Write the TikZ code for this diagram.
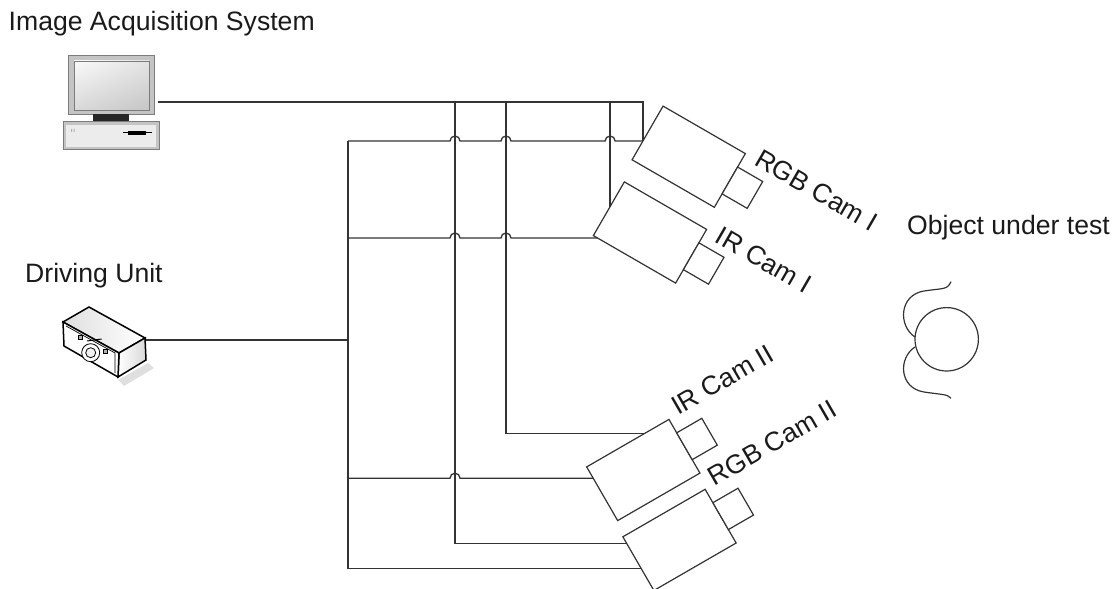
\documentclass[tikz,border=0pt]{standalone}
\usepackage{fontspec}
\setmainfont{Liberation Sans}
\usetikzlibrary{calc}
\usetikzlibrary{shadings}

\definecolor{wirecol}{HTML}{333333}
\definecolor{txtcol}{HTML}{1A1A1A}
\definecolor{pcframe}{HTML}{C4C4C4}
\definecolor{pcedge}{HTML}{7C7C7C}

\begin{document}
\begin{tikzpicture}[x=1bp, y=-1bp,
    wire/.style={draw=wirecol, line width=1.3bp},
    cambody/.style={draw=wirecol, line width=1.2bp, fill=white, minimum width=95bp, minimum height=62bp, inner sep=0pt, outer sep=0pt},
    camlens/.style={draw=wirecol, line width=1.2bp, fill=white, minimum width=29bp, minimum height=31bp, inner sep=0pt, outer sep=0pt},
    lbl/.style={font=\fontsize{26.6bp}{31bp}\selectfont, text=txtcol, inner sep=0pt}]
    \useasboundingbox (0,0) rectangle (1118,589);

    % computer
    \draw[draw=pcedge, fill=pcframe, line width=1bp] (68,56) rectangle (154,115);
    \shade[upper left=gray!4, upper right=gray!22, lower left=gray!30, lower right=gray!45] (74,61) rectangle (149,110);
    \draw[draw=pcedge, line width=0.8bp] (74,61) rectangle (149,110);
    \fill[black!85] (93,114) rectangle (129,121);
    \draw[draw=pcedge, fill=pcframe, line width=1bp] (63,122) rectangle (159,150);
    \fill[gray!15] (66,125) rectangle (156,147);
    \fill[gray!60] (71,129) rectangle (72,132) (73.5,129) rectangle (74.5,132);
    \draw[black, line width=1bp] (123,133) -- (152,133);
    \fill[black] (128,131.3) rectangle (146,134.7);
    \coordinate (pcOut) at (158,102);

    % driving unit
    \fill[gray!25] (118,380) -- (148,363) -- (154,368) -- (124,386) -- cycle;
    \shade[left color=gray!25, right color=white, draw=black, line width=1.5bp] (63,322) -- (89,307) -- (145,338) -- (119,353) -- cycle;
    \shade[left color=white, right color=gray!30, draw=black, line width=1.5bp] (119,353) -- (145,338) -- (146,360) -- (118,377) -- cycle;
    \draw[fill=white, draw=black, line width=1.5bp] (63,322) -- (119,353) -- (118,377) -- (64,346) -- cycle;
    \draw[black, line width=0.7bp] (66,326) -- (115,353) -- (115,373);
    \draw[fill=white, line width=0.8bp] (90.7,352.7) circle[radius=9];
    \draw[fill=gray!10, line width=0.8bp] (90.7,352.7) circle[radius=5];
    \draw[fill=gray!60, line width=0.6bp] (78,335.3) rectangle (82,339.3);
    \draw[fill=gray!60, line width=0.6bp] (103,349.7) rectangle (107,353.7);
    \draw[black, line width=1bp] (87,341) -- (101.7,339);
    \coordinate (duOut) at (146,340);

    % object under test
    \draw[wirecol, line width=1.2bp] (946.7,339.3) circle[radius=31.7];
    \draw[wirecol, line width=1.2bp] (915,337) .. controls (898,326) and (899,295) .. (924,291)
        .. controls (944,288) and (947,290) .. (951,281.7);
    \draw[wirecol, line width=1.2bp] (915,347) .. controls (898,358) and (899,388) .. (924,392)
        .. controls (944,395) and (947,394) .. (951,398.3);

    % cameras
    \node[cambody, rotate=-30] (rgbI) at (688.7,156.7) {};
    \node[camlens, rotate=-30, anchor=west] (rgbIlens) at (rgbI.east) {};
    \node[cambody, rotate=-30] (irI) at (650,232.5) {};
    \node[camlens, rotate=-30, anchor=west] (irIlens) at (irI.east) {};
    \node[cambody, rotate=30] (irII) at (643.3,470) {};
    \node[camlens, rotate=30, anchor=west] (irIIlens) at (irII.east) {};
    \node[cambody, rotate=30] (rgbII) at (679.5,539.9) {};
    \node[camlens, rotate=30, anchor=west] (rgbIIlens) at (rgbII.east) {};

    % cable ends on the camera housings
    \coordinate (rgbIin) at ($(rgbI.north west)!0.65!(rgbI.south west)$);
    \coordinate (irIa) at ($(irI.north west)!0.46!(irI.south west)$);
    \coordinate (irIb) at ($(irI.south west)!0.05!(irI.south east)$);
    \coordinate (irIIa) at ($(irII.north west)!0.7!(irII.north east)$);
    \coordinate (irIIb) at ($(irII.north west)!0.21!(irII.south west)$);
    \coordinate (rgbIIa) at ($(rgbII.north west)!0.12!(rgbII.south west)$);
    \coordinate (rgbIIb) at ($(rgbII.north west)!0.59!(rgbII.south west)$);

    % taps on the acquisition line and the drive bus
    \coordinate (tapA) at (455,102);
    \coordinate (tapB) at (506,102);
    \coordinate (tapC) at (irIa |- pcOut);
    \coordinate (busL) at (348,0);

    % acquisition line
    \draw[wire] (pcOut) -| (rgbIin);
    \draw[wire] (tapA) |- (rgbIIa);
    \draw[wire] (tapB) |- (irIIa);
    \draw[wire] (tapC) -- (irIa);

    % drive bus
    \draw[wire] (duOut) -- (busL |- duOut);
    \draw[wire] (busL |- rgbIin) -- (busL |- rgbIIb) -- (rgbIIb);
    \draw[wire] (busL |- rgbIin) -- ($(tapA |- rgbIin)+(-5,0)$) arc[start angle=180, end angle=360, radius=5]
        -- ($(tapB |- rgbIin)+(-5,0)$) arc[start angle=180, end angle=360, radius=5]
        -- ($(tapC |- rgbIin)+(-5,0)$) arc[start angle=180, end angle=360, radius=5] -- (rgbIin);
    \draw[wire] (busL |- irIb) -- ($(tapA |- irIb)+(-5,0)$) arc[start angle=180, end angle=360, radius=5]
        -- ($(tapB |- irIb)+(-5,0)$) arc[start angle=180, end angle=360, radius=5] -- (irIb);
    \draw[wire] (busL |- irIIb) -- ($(tapA |- irIIb)+(-5,0)$) arc[start angle=180, end angle=360, radius=5] -- (irIIb);

    % labels
    \node[lbl, anchor=base west] (iasLbl) at (8.5,31) {Image Acquisition System};
    \node[lbl, anchor=base west] (duLbl) at (25,283) {Driving Unit};
    \node[lbl, anchor=base west] (outLbl) at (907,235) {Object under test};
    \node[lbl, anchor=base west, rotate=-30] (rgbIlbl) at (753,164) {RGB Cam I};
    \node[lbl, anchor=base west, rotate=-30] (irIlbl) at (713.6,241.5) {IR Cam I};
    \node[lbl, anchor=base west, rotate=30] (irIIlbl) at (678,416) {IR Cam II};
    \node[lbl, anchor=base west, rotate=30] (rgbIIlbl) at (714.3,487) {RGB Cam II};
\end{tikzpicture}
\end{document}
